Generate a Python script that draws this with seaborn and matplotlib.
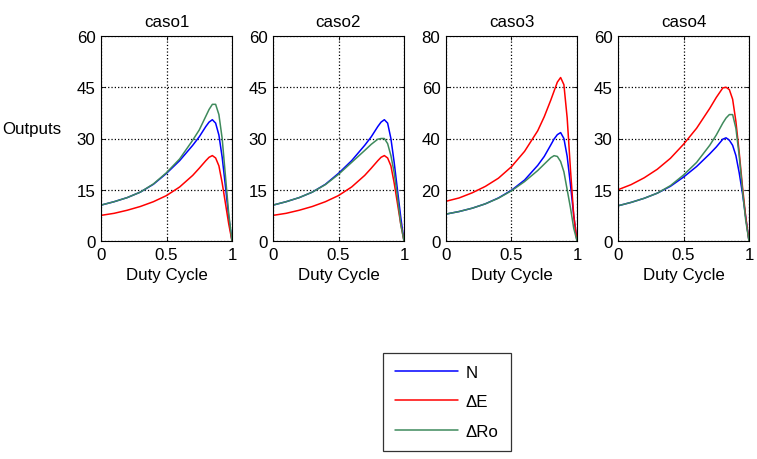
import matplotlib
matplotlib.use("Agg")
import matplotlib.pyplot as plt
from matplotlib.lines import Line2D
import seaborn as sns
import pandas as pd

duty = [0, 0.1, 0.2, 0.3, 0.4, 0.5, 0.6, 0.7, 0.75, 0.8, 0.825, 0.85, 0.875, 0.9, 0.925, 0.95, 0.975, 1.0]

cases = ["caso1", "caso2", "caso3", "caso4"]
series = ["N", "ΔE", "ΔRo"]

c1_N   = [10.5, 11.5, 12.7, 14.3, 16.6, 19.8, 23.5, 28.0, 30.5, 33.5, 34.8, 35.5, 34.5, 31.0, 24.5, 16.0, 7.0, 0.0]
c1_dE  = [7.5, 8.1, 9.0, 10.1, 11.5, 13.3, 15.8, 19.2, 21.3, 23.5, 24.5, 25.0, 24.3, 22.0, 17.0, 11.0, 5.0, 0.0]
c1_dRo = [10.5, 11.5, 12.7, 14.3, 16.7, 20.0, 24.0, 29.5, 32.5, 36.5, 38.5, 40.0, 40.0, 37.0, 30.0, 19.0, 8.0, 0.0]

c2_N   = [10.5, 11.5, 12.7, 14.3, 16.6, 19.8, 23.5, 28.0, 30.5, 33.5, 34.8, 35.5, 34.5, 30.0, 23.0, 15.0, 7.0, 0.0]
c2_dE  = [7.5, 8.1, 9.0, 10.1, 11.5, 13.3, 15.8, 19.2, 21.3, 23.5, 24.5, 25.0, 24.3, 22.0, 17.0, 11.0, 5.0, 0.0]
c2_dRo = [10.5, 11.5, 12.7, 14.3, 16.5, 19.5, 23.0, 26.5, 28.3, 29.8, 30.0, 30.0, 28.5, 25.0, 20.0, 13.0, 5.0, 0.0]

c3_N   = [10.5, 11.5, 12.8, 14.5, 16.8, 19.8, 23.8, 29.5, 33.0, 37.5, 39.8, 41.5, 42.3, 40.0, 33.0, 22.0, 10.0, 0.0]
c3_dE  = [15.5, 16.8, 18.8, 21.3, 24.5, 29.0, 35.0, 43.0, 48.5, 55.0, 58.5, 62.0, 63.8, 61.0, 48.0, 28.0, 10.0, 0.0]
c3_dRo = [10.5, 11.5, 12.8, 14.5, 16.7, 19.6, 23.2, 27.5, 30.0, 32.5, 33.3, 33.0, 31.0, 27.0, 20.0, 13.0, 5.0, 0.0]

c4_N   = [10.3, 11.3, 12.5, 14.0, 16.0, 18.7, 21.8, 25.5, 27.5, 29.8, 30.2, 29.5, 28.0, 25.0, 20.0, 14.0, 7.0, 0.0]
c4_dE  = [15.0, 16.5, 18.5, 21.0, 24.2, 28.3, 33.0, 38.8, 42.0, 44.8, 45.0, 44.3, 41.5, 35.0, 26.0, 16.0, 7.0, 0.0]
c4_dRo = [10.3, 11.3, 12.5, 14.0, 16.2, 19.3, 23.0, 28.0, 31.0, 34.5, 36.0, 37.0, 37.0, 33.0, 25.0, 15.0, 6.0, 0.0]

data = {
    "caso1": [c1_N, c1_dE, c1_dRo],
    "caso2": [c2_N, c2_dE, c2_dRo],
    "caso3": [c3_N, c3_dE, c3_dRo],
    "caso4": [c4_N, c4_dE, c4_dRo],
}
ylims = {"caso1": 60, "caso2": 60, "caso3": 80, "caso4": 60}
yticks = {"caso1": [0, 15, 30, 45, 60], "caso2": [0, 15, 30, 45, 60],
          "caso3": [0, 20, 40, 60, 80], "caso4": [0, 15, 30, 45, 60]}

rows = []
for c in cases:
    for s, vals in zip(series, data[c]):
        for d, v in zip(duty, vals):
            rows.append({"caso": c, "serie": s, "D": d, "V": v})
df = pd.DataFrame(rows)

sns.set_style("ticks")
plt.rcParams["font.family"] = ["Liberation Sans", "DejaVu Sans"]
plt.rcParams["xtick.direction"] = "in"
plt.rcParams["ytick.direction"] = "in"
plt.rcParams["text.color"] = "black"
plt.rcParams["axes.labelcolor"] = "black"
plt.rcParams["xtick.color"] = "black"
plt.rcParams["ytick.color"] = "black"

palette = {"N": "#0000ff", "ΔE": "#ff0000", "ΔRo": "#3f8a5c"}
FS = 12.2

fig = plt.figure(figsize=(7.57, 4.60), dpi=100)
lefts = [101, 273, 446, 618]
for i, c in enumerate(cases):
    ax = fig.add_axes([lefts[i] / 757, 1 - 242 / 460, 131 / 757, 205 / 460])
    sub = df[df["caso"] == c]
    sns.lineplot(data=sub, x="D", y="V", hue="serie", palette=palette, ax=ax,
                 legend=False, linewidth=1.1, estimator=None, sort=False)
    ax.set_xlim(0, 1)
    ax.set_ylim(0, ylims[c])
    ax.set_xticks([0, 0.5, 1])
    ax.set_xticklabels(["0", "0.5", "1"])
    ax.set_yticks(yticks[c])
    ax.grid(True, color="black", linestyle=":", linewidth=0.9)
    for sp in ax.spines.values():
        sp.set_visible(True)
        sp.set_color("black")
        sp.set_linewidth(0.8)
    ax.tick_params(labelsize=FS, length=3, width=0.6, colors="black", pad=4,
                   top=True, right=True)
    ax.set_title(c, fontsize=FS, pad=7, color="black")
    ax.set_xlabel("Duty Cycle", fontsize=FS, labelpad=4)
    ax.set_ylabel("")

fig.text(0.003, 1 - 130 / 460, "Outputs", fontsize=FS, va="center", ha="left")

handles = [Line2D([], [], color=palette[s], linewidth=1.1) for s in series]
leg = fig.legend(handles, series, loc="lower left", bbox_to_anchor=(383 / 757, 8 / 460),
                 fontsize=FS, frameon=True, fancybox=False, edgecolor="black",
                 handlelength=3.7, labelspacing=0.85, borderpad=0.72, handletextpad=0.45,
                 borderaxespad=0)
leg.get_frame().set_linewidth(0.9)

fig.savefig("out.png", dpi=100)
